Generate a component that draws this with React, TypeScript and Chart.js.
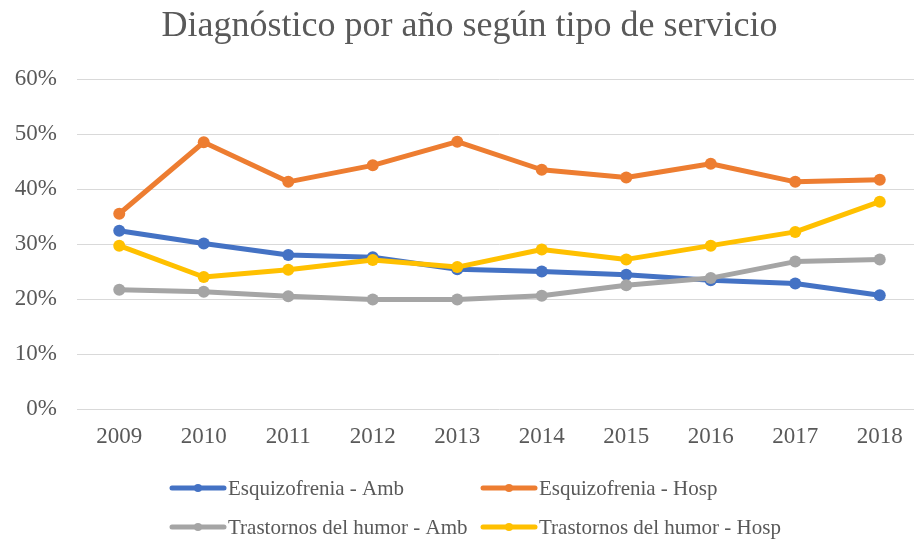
import React, { useEffect, useRef } from "react";
import { Chart, registerables } from "chart.js";

Chart.register(...registerables);

const years = ["2009", "2010", "2011", "2012", "2013", "2014", "2015", "2016", "2017", "2018"];
const esqAmb = [32.4, 30.1, 28.0, 27.6, 25.4, 25.0, 24.4, 23.4, 22.8, 20.7];
const esqHosp = [35.5, 48.5, 41.3, 44.3, 48.6, 43.5, 42.1, 44.6, 41.3, 41.7];
const humAmb = [21.7, 21.3, 20.5, 19.9, 19.9, 20.6, 22.5, 23.8, 26.8, 27.2];
const humHosp = [29.7, 24.0, 25.3, 27.1, 25.8, 29.0, 27.2, 29.7, 32.2, 37.7];
const seriesNames = [
  "Esquizofrenia - Amb",
  "Esquizofrenia - Hosp",
  "Trastornos del humor - Amb",
  "Trastornos del humor - Hosp",
];
const seriesColors = ["#4472C4", "#ED7D31", "#A5A5A5", "#FFC000"];
const titleText = "Diagnóstico por año según tipo de servicio";

const FONT = "'Liberation Serif', 'Times New Roman', serif";
const TEXT = "#595959";

const legendPlugin = {
  id: "gridLegend",
  afterDraw(chart: any) {
    const ctx = chart.ctx;
    const colX = [172, 483];
    const rowY = [488, 527];
    ctx.save();
    ctx.font = `21px ${FONT}`;
    ctx.textBaseline = "middle";
    ctx.textAlign = "left";
    chart.data.datasets.forEach((ds: any, i: number) => {
      const x = colX[i % 2];
      const y = rowY[Math.floor(i / 2)];
      ctx.strokeStyle = ds.borderColor;
      ctx.lineWidth = 5;
      ctx.lineCap = "round";
      ctx.beginPath();
      ctx.moveTo(x, y);
      ctx.lineTo(x + 52, y);
      ctx.stroke();
      ctx.fillStyle = ds.borderColor;
      ctx.beginPath();
      ctx.arc(x + 26, y, 4, 0, Math.PI * 2);
      ctx.fill();
      ctx.fillStyle = TEXT;
      ctx.fillText(ds.label, x + 56, y + 1);
    });
    ctx.restore();
  },
};

export default function App() {
  const ref = useRef<HTMLCanvasElement>(null);
  useEffect(() => {
    if (!ref.current) return;
    const all = [esqAmb, esqHosp, humAmb, humHosp];
    const chart = new Chart(ref.current, {
      type: "line",
      data: {
        labels: years,
        datasets: all.map((d, i) => ({
          label: seriesNames[i],
          data: d,
          borderColor: seriesColors[i],
          backgroundColor: seriesColors[i],
          pointBackgroundColor: seriesColors[i],
          pointBorderWidth: 0,
          pointRadius: 6,
          borderWidth: 5,
          borderJoinStyle: "round" as const,
          tension: 0,
          order: 3 - i,
        })),
      },
      options: {
        responsive: false,
        animation: false,
        layout: { padding: { left: 11, right: 0, top: 0, bottom: 82 } },
        plugins: {
          legend: { display: false },
          tooltip: { enabled: false },
          title: {
            display: true,
            text: titleText,
            color: TEXT,
            font: { family: FONT, size: 36, weight: "normal" },
            padding: { top: 5, bottom: 30.8 },
          },
        },
        scales: {
          x: {
            offset: true,
            grid: { display: false, drawTicks: false },
            border: { display: false },
            ticks: { color: TEXT, font: { family: FONT, size: 23 }, padding: 14 },
            afterFit(scale: any) {
              scale.height = 50;
            },
          },
          y: {
            min: 0,
            max: 60,
            grid: { color: "#D9D9D9", lineWidth: 1, drawTicks: false },
            border: { display: false },
            ticks: {
              stepSize: 10,
              color: TEXT,
              font: { family: FONT, size: 23 },
              padding: 20,
              callback: (v: any) => `${v}%`,
            },
            afterFit(scale: any) {
              scale.width = 66;
            },
          },
        },
      },
      plugins: [legendPlugin],
    });
    return () => chart.destroy();
  }, []);
  return (
    <div
      style={{
        position: "fixed",
        left: 0,
        top: 0,
        width: 914,
        height: 541,
        overflow: "hidden",
        background: "#fff",
      }}
    >
      <canvas ref={ref} width={928} height={541} style={{ display: "block" }} />
    </div>
  );
}
